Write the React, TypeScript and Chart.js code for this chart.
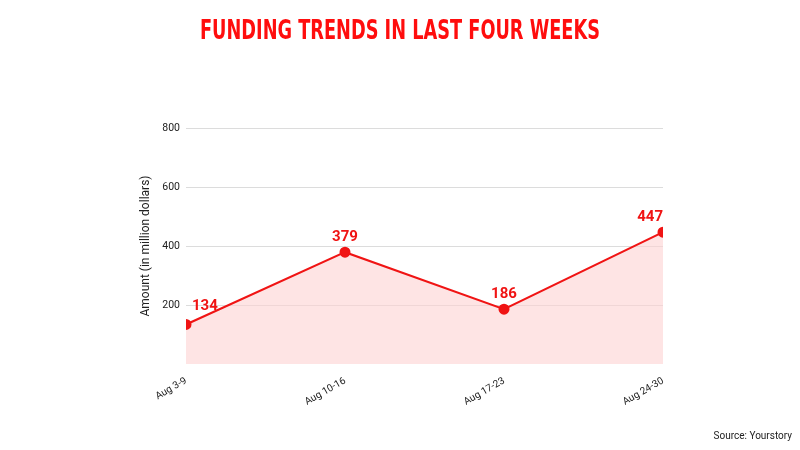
import React, { useEffect, useRef } from "react";
import { Chart, registerables } from "chart.js";

Chart.register(...registerables);

const categories = ["Aug 3-9", "Aug 10-16", "Aug 17-23", "Aug 24-30"];
const amounts = [134, 379, 186, 447];
const yTicks = [0, 200, 400, 600, 800];
const titleText = "FUNDING TRENDS IN LAST FOUR WEEKS";
const sourceText = "Source: Yourstory";
const yTitle = "Amount (in million dollars)";

const RED = "#f01414";

const overlay = {
  id: "overlay",
  afterDraw(chart: any) {
    const ctx = chart.ctx;
    const area = chart.chartArea;
    ctx.save();
    ctx.fillStyle = "#ff0d0d";
    ctx.font = "bold 27px 'DejaVu Sans Condensed', 'Liberation Sans Narrow', sans-serif";
    ctx.textAlign = "center";
    ctx.textBaseline = "middle";
    ctx.save();
    ctx.translate(400, 32);
    ctx.scale(0.73, 1);
    ctx.fillText(titleText, 0, 0);
    ctx.restore();

    ctx.fillStyle = "#222";
    ctx.font = "10px Roboto, sans-serif";
    ctx.textAlign = "right";
    ctx.fillText(sourceText, 792, 436);

    const meta = chart.getDatasetMeta(0);
    ctx.fillStyle = RED;
    ctx.font = "bold 15px Roboto, sans-serif";
    ctx.textAlign = "center";
    ctx.textBaseline = "bottom";
    meta.data.forEach((pt: any, i: number) => {
      const txt = String(amounts[i]);
      const w = ctx.measureText(txt).width;
      let x = pt.x;
      if (x - w / 2 < area.left + 6) x = area.left + w / 2 + 6;
      if (x + w / 2 > area.right) x = area.right - w / 2;
      const y = i === 0 ? pt.y - 11 : pt.y - 7;
      ctx.fillText(txt, x, y);
    });
    ctx.restore();
  },
};

export default function App() {
  const ref = useRef<HTMLCanvasElement>(null);
  useEffect(() => {
    document.body.style.margin = "0";
    const chart = new Chart(ref.current!, {
      type: "line",
      data: {
        labels: categories,
        datasets: [
          {
            data: amounts,
            borderColor: RED,
            borderWidth: 2,
            backgroundColor: "rgba(253, 210, 210, 0.6)",
            fill: "origin",
            pointRadius: 4.5,
            pointBackgroundColor: RED,
            pointBorderColor: RED,
            tension: 0,
            clip: 0,
          },
        ],
      },
      options: {
        animation: false,
        responsive: false,
        layout: { padding: { top: 128, left: 139, right: 137, bottom: 40 } },
        plugins: { legend: { display: false }, tooltip: { enabled: false } },
        scales: {
          x: {
            offset: false,
            grid: { display: false },
            border: { display: false },
            ticks: {
              color: "#222",
              font: { family: "Roboto", size: 10 },
              maxRotation: 30,
              minRotation: 30,
              padding: 3,
            },
            afterFit: (s: any) => {
              s.height = 46;
            },
          },
          y: {
            min: 0,
            max: 800,
            border: { display: false },
            grid: {
              color: (c: any) => (c.tick && c.tick.value === 0 ? "rgba(0,0,0,0)" : "#dcdcdc"),
              drawTicks: false,
            },
            afterBuildTicks: (s: any) => {
              s.ticks = yTicks.map((v) => ({ value: v }));
            },
            ticks: {
              color: "#222",
              font: { family: "Roboto", size: 10.5 },
              padding: 6,
              callback: (v: any) => (v === 0 ? "" : String(v)),
            },
            title: {
              display: true,
              text: yTitle,
              color: "#222",
              font: { family: "Roboto", size: 12 },
              padding: 0,
            },
            afterFit: (s: any) => {
              s.width = 47;
            },
          },
        },
      },
      plugins: [overlay],
    });
    return () => chart.destroy();
  }, []);
  return (
    <div style={{ width: 800, height: 450, background: "#fff" }}>
      <canvas ref={ref} width={800} height={450} />
    </div>
  );
}
